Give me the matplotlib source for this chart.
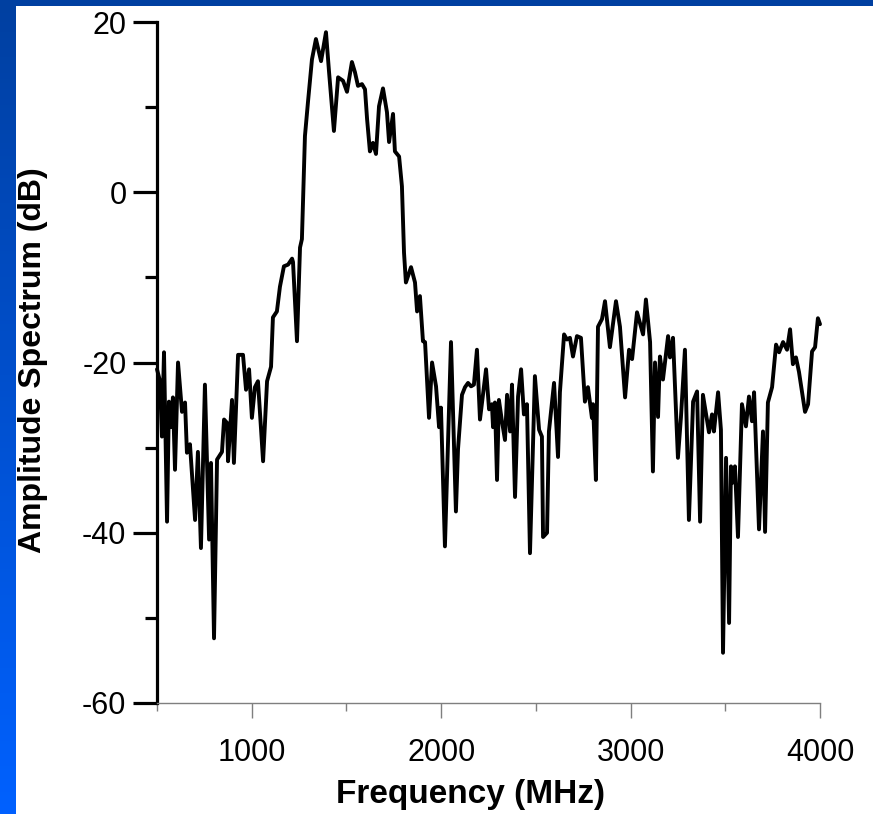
import numpy as np
import matplotlib.pyplot as plt
from matplotlib.patches import Rectangle

# ------------------------------------------------------------
# spectrum data
# ------------------------------------------------------------
freq_mhz = [
    500, 516, 526, 537, 553, 563, 574, 584, 595, 611, 632, 648, 658, 674, 701,
    716, 732, 753, 775, 785, 801, 817, 843, 854, 870, 875, 896, 906, 928, 954,
    970, 986, 1001, 1017, 1033, 1060, 1081, 1102, 1112, 1133, 1149, 1170, 1192,
    1213, 1218, 1239, 1255, 1265, 1281, 1297, 1318, 1339, 1366, 1392, 1408,
    1434, 1456, 1482, 1503, 1529, 1545, 1561, 1582, 1598, 1609, 1624, 1640,
    1656, 1672, 1693, 1714, 1725, 1746, 1756, 1778, 1793, 1804, 1814, 1841,
    1862, 1873, 1888, 1904, 1915, 1936, 1952, 1973, 1989, 1999, 2020, 2052,
    2078, 2089, 2110, 2126, 2142, 2158, 2173, 2189, 2205, 2237, 2253, 2268,
    2274, 2284, 2295, 2305, 2321, 2337, 2348, 2364, 2374, 2390, 2406, 2422,
    2437, 2453, 2469, 2495, 2517, 2532, 2538, 2559, 2569, 2596, 2617, 2627,
    2649, 2664, 2680, 2696, 2717, 2738, 2759, 2775, 2796, 2802, 2817, 2828,
    2849, 2865, 2891, 2923, 2944, 2971, 2992, 3008, 3034, 3066, 3081, 3103,
    3118, 3129, 3145, 3155, 3171, 3198, 3208, 3224, 3250, 3266, 3287, 3308,
    3330, 3351, 3367, 3382, 3414, 3430, 3440, 3462, 3477, 3488, 3504, 3520,
    3530, 3541, 3551, 3567, 3588, 3609, 3625, 3641, 3652, 3678, 3699, 3710,
    3725, 3747, 3768, 3784, 3805, 3826, 3842, 3857, 3873, 3889, 3921, 3937,
    3958, 3974, 3989, 4000,
]

amp_db = [
    -20.8, -22.2, -28.7, -18.8, -38.7, -24.6, -27.6, -24.1, -32.6, -20.0,
    -25.8, -24.7, -30.6, -29.6, -38.5, -30.5, -41.8, -22.6, -40.8, -31.8,
    -52.4, -31.4, -30.5, -26.7, -27.1, -31.6, -24.4, -31.8, -19.1, -19.1,
    -23.2, -20.8, -26.5, -22.9, -22.2, -31.6, -22.2, -20.5, -14.7, -14.0,
    -11.1, -8.7, -8.5, -7.8, -8.2, -17.5, -6.5, -5.5, 6.6, 10.6,
    15.6, 18.0, 15.4, 18.8, 14.2, 7.2, 13.5, 13.1, 11.8, 15.3,
    14.1, 12.5, 12.7, 12.1, 8.6, 4.8, 5.8, 4.5, 10.1, 12.2,
    9.4, 5.9, 9.2, 4.8, 4.2, 0.7, -7.1, -10.6, -8.8, -10.6,
    -14.0, -12.2, -17.5, -17.6, -26.5, -20.0, -22.8, -27.6, -25.3, -41.6,
    -17.6, -37.5, -30.2, -23.8, -22.9, -22.4, -22.8, -22.6, -18.5, -26.7,
    -20.8, -25.5, -24.9, -27.6, -24.7, -33.8, -24.4, -26.9, -29.1, -23.8,
    -28.1, -22.6, -35.8, -24.0, -20.8, -26.1, -24.9, -42.4, -21.6, -27.9,
    -28.7, -40.5, -40.0, -28.1, -22.4, -31.1, -23.5, -16.7, -17.3, -17.1,
    -19.3, -16.9, -17.1, -24.6, -22.9, -26.5, -24.9, -33.8, -15.8, -14.9,
    -12.8, -18.2, -12.8, -15.8, -24.1, -18.5, -19.6, -14.1, -16.7, -12.6,
    -17.6, -32.8, -20.0, -26.4, -19.3, -22.0, -16.9, -19.4, -17.1, -31.2,
    -26.4, -18.5, -38.5, -24.6, -23.4, -38.7, -23.8, -28.2, -26.1, -28.1,
    -23.5, -27.9, -54.1, -31.2, -50.6, -32.2, -34.1, -32.2, -40.5, -24.9,
    -27.5, -24.0, -26.9, -23.5, -39.6, -28.1, -39.9, -24.7, -22.9, -17.9,
    -18.8, -17.6, -18.5, -16.1, -20.2, -19.4, -21.1, -25.8, -24.9, -18.7,
    -18.2, -14.8, -15.5,
]

x_ticks = [1000, 2000, 3000, 4000]
y_ticks = [-60, -40, -20, 0, 20]

plt.rcParams['font.family'] = ['Liberation Sans', 'DejaVu Sans']
plt.rcParams['axes.unicode_minus'] = False

W, H = 873, 814
fig = plt.figure(figsize=(W / 100, H / 100), dpi=100)

# ------------------------------------------------------------
# blue frame (left gradient strip + top strip)
# ------------------------------------------------------------
band = fig.add_axes([0, 0, 16 / W, 1])
grad = np.linspace(0, 1, 256)[:, None]
top_c = np.array([0.0, 0.25, 0.63])
bot_c = np.array([0.0, 0.38, 1.0])
img = top_c[None, None, :] * (1 - grad[:, :, None]) + bot_c[None, None, :] * grad[:, :, None]
band.imshow(img, aspect='auto', extent=[0, 1, 1, 0])
band.set_axis_off()
fig.patches.append(Rectangle((0, 1 - 6 / H), 1, 6 / H, transform=fig.transFigure,
                             facecolor=(0.0, 0.25, 0.63), edgecolor='none', zorder=5))

# ------------------------------------------------------------
# spectrum
# ------------------------------------------------------------
ax = fig.add_axes([157 / W, 1 - 703 / H, (820 - 157) / W, (703 - 22) / H])

ax.plot(freq_mhz, amp_db, color='black', linewidth=2.8,
        solid_joinstyle='round', solid_capstyle='round', clip_on=False)

ax.set_xlim(500, 4000)
ax.set_ylim(-60, 20)

for s in ['top', 'right']:
    ax.spines[s].set_visible(False)
ax.spines['left'].set_linewidth(2.3)
ax.spines['left'].set_color('black')
ax.spines['bottom'].set_linewidth(1.0)
ax.spines['bottom'].set_color('#7f7f7f')

ax.set_yticks(y_ticks)
ax.set_yticks(np.arange(-50, 20, 20), minor=True)
ax.tick_params(axis='y', which='major', length=17, width=2.3, color='black',
               labelsize=22, pad=5)
ax.tick_params(axis='y', which='minor', length=9, width=2.3, color='black')

ax.set_xticks(x_ticks)
ax.set_xticks([500, 1500, 2500, 3500], minor=True)
ax.tick_params(axis='x', which='major', length=11, width=1.0, color='#7f7f7f',
               labelsize=22, pad=14)
ax.tick_params(axis='x', which='minor', length=6, width=1.0, color='#7f7f7f')

fig.text(470 / W, 1 - 795 / H, 'Frequency (MHz)', fontsize=24, fontweight='bold',
         ha='center', va='center')
fig.text(33 / W, 1 - 360 / H, 'Amplitude Spectrum (dB)', fontsize=23,
         fontweight='bold', rotation=90, ha='center', va='center')

fig.savefig('out.png', dpi=100)
